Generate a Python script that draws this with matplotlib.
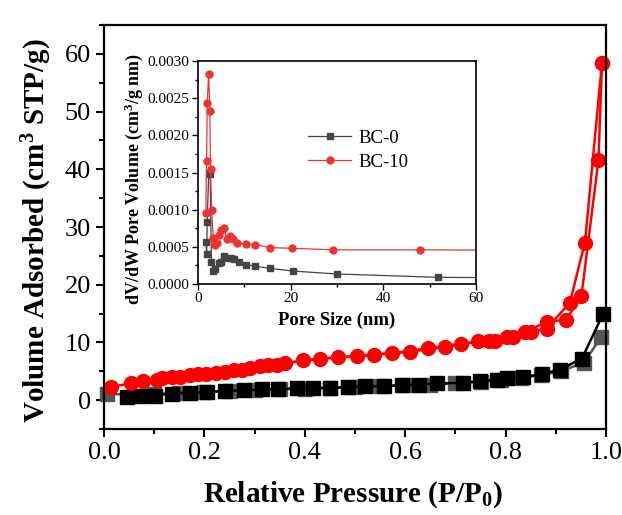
import matplotlib
matplotlib.use("Agg")
import matplotlib.pyplot as plt
from matplotlib.ticker import MultipleLocator

plt.rcParams['font.family'] = ['Liberation Serif', 'DejaVu Serif']
plt.rcParams['mathtext.fontset'] = 'custom'
plt.rcParams['mathtext.rm'] = 'Liberation Serif'
plt.rcParams['mathtext.bf'] = 'Liberation Serif:bold'
plt.rcParams['mathtext.it'] = 'Liberation Serif:italic'

# isotherms, BC-0
bc0_ads_p = [0.045, 0.072, 0.102, 0.135, 0.171, 0.206, 0.242, 0.278, 0.314, 0.347, 0.384,
             0.417, 0.45, 0.487, 0.52, 0.557, 0.594, 0.627, 0.663, 0.716, 0.749, 0.782,
             0.802, 0.835, 0.872, 0.908, 0.952, 0.994]
bc0_ads_v = [0.6, 0.7, 0.8, 1.15, 1.3, 1.4, 1.6, 1.7, 1.85, 1.85, 2.1,
             2.1, 2.1, 2.3, 2.4, 2.4, 2.6, 2.7, 2.9, 3.0, 3.3, 3.5,
             3.75, 4.0, 4.5, 5.3, 7.2, 14.9]
bc0_des_p = [0.991, 0.956, 0.91, 0.87, 0.83, 0.79, 0.75, 0.70, 0.65, 0.60, 0.55, 0.50,
             0.45, 0.40, 0.35, 0.30, 0.25, 0.20, 0.15, 0.10, 0.005]
bc0_des_v = [11.0, 6.5, 5.0, 4.3, 3.9, 3.5, 3.2, 2.9, 2.7, 2.6, 2.4, 2.3,
             2.1, 2.0, 1.9, 1.8, 1.6, 1.4, 1.2, 1.1, 1.0]

# isotherms, BC-10
bc10_ads_p = [0.014, 0.053, 0.078, 0.105, 0.135, 0.171, 0.204, 0.241, 0.274, 0.311, 0.344,
              0.397, 0.467, 0.537, 0.61, 0.679, 0.746, 0.802, 0.839, 0.882, 0.92, 0.951,
              0.985, 0.992]
bc10_ads_v = [2.3, 2.9, 3.35, 3.5, 4.0, 4.3, 4.5, 4.9, 5.3, 5.9, 6.1,
              6.9, 7.4, 7.9, 8.4, 9.2, 10.2, 11.0, 11.8, 13.6, 13.9, 18.0,
              41.6, 58.4]
bc10_des_p = [0.992, 0.958, 0.928, 0.882, 0.85, 0.815, 0.779, 0.766, 0.712, 0.646, 0.573,
              0.503, 0.43, 0.361, 0.327, 0.291, 0.258, 0.223, 0.188, 0.151, 0.116]
bc10_des_v = [58.4, 27.3, 16.9, 12.4, 11.8, 10.9, 10.3, 10.2, 9.8, 9.0, 8.1,
              7.6, 7.2, 6.4, 6.1, 5.6, 5.3, 4.7, 4.5, 4.0, 3.75]

# pore size distribution (inset)
psd0_d = [1.73, 1.87, 2.0, 2.3, 2.6, 2.9, 3.3, 3.7, 4.5, 5.0, 5.6, 6.3, 7.05, 7.8, 8.9,
          10.4, 12.4, 15.5, 20.4, 29.9, 51.7, 80]
psd0_v = [0.00056, 0.00040, 0.00084, 0.00149, 0.00148, 0.00030, 0.00018, 0.00020, 0.00028,
          0.00030, 0.00038, 0.00035, 0.00035, 0.00034, 0.00029, 0.00026, 0.00024, 0.00021,
          0.000175, 0.000135, 0.00009, 0.00008]
psd10_d = [1.7, 1.85, 2.0, 2.3, 2.55, 2.7, 2.95, 3.3, 3.6, 4.0, 4.5, 5.0, 5.6, 6.2, 6.8,
           7.5, 8.5, 10.3, 12.4, 15.5, 20.3, 29.2, 47.9, 80]
psd10_v = [0.00096, 0.00166, 0.00243, 0.00283, 0.00233, 0.00155, 0.00099, 0.00062, 0.00053,
           0.00055, 0.00066, 0.00072, 0.00075, 0.00061, 0.00064, 0.00060, 0.00055, 0.00054,
           0.00053, 0.00049, 0.00048, 0.00046, 0.00046, 0.00045]

fig = plt.figure(figsize=(6.22, 5.15), dpi=100)
ax = fig.add_axes([104/622, 86/515, 502/622, 404/515])

ax.plot(bc0_des_p, bc0_des_v, '-s', color='#555555', ms=9.5, lw=1.8, clip_on=False)
ax.plot(bc0_ads_p, bc0_ads_v, '-s', color='black', ms=9.5, lw=1.8, clip_on=False)
ax.plot(bc10_des_p, bc10_des_v, '-o', color='#ff0000', ms=10, lw=1.8, clip_on=False)
ax.plot(bc10_ads_p, bc10_ads_v, '-o', color='#ff0000', ms=10, lw=1.8, clip_on=False)

ax.set_xlim(0, 1.0)
ax.set_ylim(-5, 65)
ax.xaxis.set_major_locator(MultipleLocator(0.2))
ax.xaxis.set_minor_locator(MultipleLocator(0.1))
ax.yaxis.set_major_locator(MultipleLocator(10))
ax.yaxis.set_minor_locator(MultipleLocator(5))
ax.tick_params(which='both', direction='out', width=1.5, labelsize=19)
ax.tick_params(which='major', length=6)
ax.tick_params(which='minor', length=3.5)
for s in ax.spines.values():
    s.set_linewidth(1.6)
ax.set_xlabel(r'Relative Pressure (P/P$_\mathbf{0}$)', fontsize=21, fontweight='bold')
ax.set_ylabel(r'Volume Adsorbed (cm$^\mathbf{3}$ STP/g)', fontsize=21, fontweight='bold')
ax.xaxis.set_label_coords(0.495, -0.125)
ax.yaxis.set_label_coords(-0.1, 0.49)

# inset
ins = fig.add_axes([198/622, 231/515, 278/622, 223/515])
ins.plot(psd0_d, psd0_v, '-s', color='#444444', ms=4.5, lw=0.9, label='BC-0')
ins.plot(psd10_d, psd10_v, '-o', color='#ee3333', ms=5, lw=0.9, label='BC-10')
ins.set_xlim(0, 60)
ins.set_ylim(0, 0.003)
ins.xaxis.set_major_locator(MultipleLocator(20))
ins.xaxis.set_minor_locator(MultipleLocator(10))
ins.yaxis.set_major_locator(MultipleLocator(0.0005))
ins.yaxis.set_minor_locator(MultipleLocator(0.00025))
ins.yaxis.set_major_formatter(plt.FormatStrFormatter('%.4f'))
ins.tick_params(which='both', direction='out', width=1.0, labelsize=11, pad=2)
ins.tick_params(which='major', length=4)
ins.tick_params(which='minor', length=2)
for s in ins.spines.values():
    s.set_linewidth(1.2)
ins.set_xlabel('Pore Size (nm)', fontsize=13.5, fontweight='bold')
ins.set_ylabel(r'dV/dW Pore Volume (cm$^\mathbf{3}$/g nm)', fontsize=13, fontweight='bold')
ins.xaxis.set_label_coords(0.499, -0.125)
ins.yaxis.set_label_coords(-0.19, 0.47)
ins.legend(loc='center left', bbox_to_anchor=(0.396, 0.6), frameon=False, fontsize=13.5,
           borderpad=0, borderaxespad=0, handlelength=2.3, handletextpad=0.4, labelspacing=0.35)

fig.savefig('out.png', dpi=100)
